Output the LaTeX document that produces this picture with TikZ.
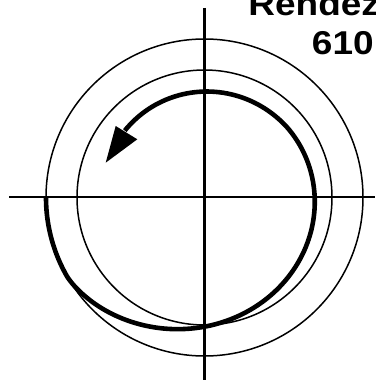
\documentclass[tikz,border=0pt]{standalone}
\usepackage{fontspec}
\setmainfont{Liberation Sans}
\begin{document}
\begin{tikzpicture}[x=0.5pt,y=0.5pt,
  thinline/.style={line width=0.75pt},
  axisline/.style={line width=1.3pt},
  orbit/.style={line width=2.3pt},
  labeltext/.style={font=\bfseries\fontsize{16.5}{18}\selectfont, inner sep=0pt, anchor=base west, xscale=1.12}]
\useasboundingbox (0,0) rectangle (375,380);
\clip (0,0) rectangle (375,380);
\coordinate (c) at (204.5,182.5);
\coordinate (vtop) at (204.5,372);
\coordinate (vbot) at (204.5,0);
\coordinate (hleft) at (9,183);
\coordinate (hright) at (375,183);
\draw[thinline] (c) circle (158.5);
\draw[thinline] (c) circle (127.5);
\draw[axisline] (vtop) -- (vbot);
\draw[axisline] (hleft) -- (hright);
\begin{scope}[shift={(c)}]
\draw[orbit] plot[domain=180:500, samples=161, smooth]
  (\x:{107.5 + 51*exp(-((max(\x-210,0.01)/67.4)^1.35)) - 0.035*max(\x-400,0)});
\end{scope}
\fill (105.7,217.3) -- (115.7,254) -- (137.3,240.7) -- cycle;
\node[labeltext] (t1) at (248,364) {Rendez};
\node[labeltext] (t2) at (311.5,325) {610};
\end{tikzpicture}
\end{document}
